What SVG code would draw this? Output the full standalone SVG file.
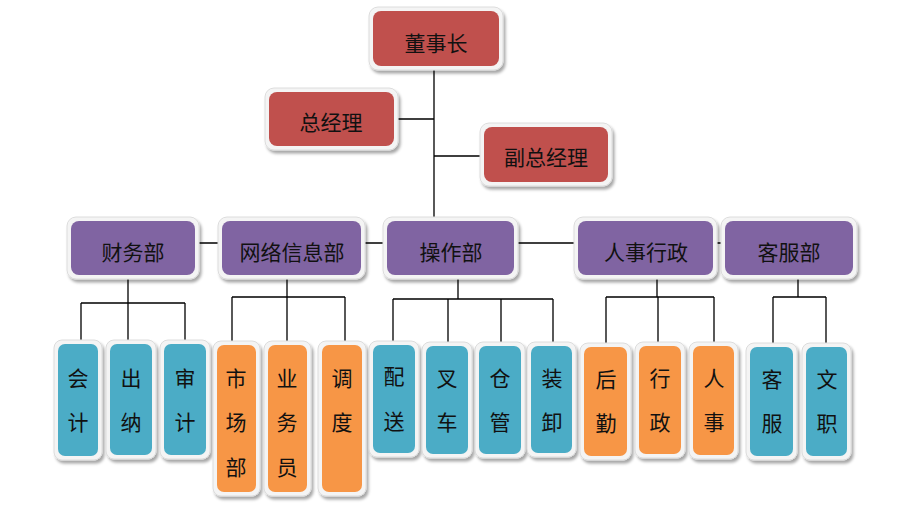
<svg xmlns="http://www.w3.org/2000/svg" width="920" height="510" viewBox="0 0 920 510">
<defs>
<filter id="sh" x="-20%" y="-20%" width="150%" height="150%">
<feDropShadow dx="2" dy="3" stdDeviation="1.5" flood-color="#000" flood-opacity="0.35"/>
</filter>
</defs>
<style>
.o{fill:#f4f4f4;stroke:#dcdcdc;stroke-width:1;filter:url(#sh)}
.red{fill:#C0504D}
.pur{fill:#8064A2}
.teal{fill:#4BACC6}
.org{fill:#F79646}
text{font-family:"Noto Sans CJK SC","Noto Sans",sans-serif;fill:#111;text-anchor:middle;dominant-baseline:central}
.t1{font-size:21px}
.t2{font-size:21px}
.t3{font-size:21px}
.ln{stroke:#000;stroke-width:1.3;fill:none}
</style>
<rect width="920" height="510" fill="#fff"/>
<g id="connectors" class="ln">
<path d="M434 70V217M398 119H434M434 156H480M199 243H721"/>
<path d="M128 279V303M81 303H185M81 303V342M128 303V342M185 303V342"/>
<path d="M287 279V297M232 297H345M232 297V342M287 297V342M345 297V342"/>
<path d="M458 279V299M393 299H553M393 299V342M448 299V342M501 299V342M553 299V342"/>
<path d="M657 279V297M606 297H714M606 297V343M658 297V343M714 297V343"/>
<path d="M798 279V297M773 297H826M773 297V343M826 297V343"/>
</g>
<g id="n-dongshizhang"><rect class="o" x="369" y="7" width="134" height="63" rx="9"/><rect class="red" x="373" y="11" width="126" height="55" rx="8"/><text class="t1" x="436" y="42">董事长</text></g>
<g id="n-zongjingli"><rect class="o" x="265" y="88" width="133" height="62" rx="9"/><rect class="red" x="269" y="92" width="125" height="54" rx="8"/><text class="t1" x="331" y="121">总经理</text></g>
<g id="n-fuzongjingli"><rect class="o" x="480" y="123" width="132" height="63" rx="9"/><rect class="red" x="484" y="127" width="124" height="55" rx="8"/><text class="t1" x="546" y="156">副总经理</text></g>

<g id="n-caiwubu"><rect class="o" x="67" y="217" width="132" height="62" rx="9"/><rect class="pur" x="71" y="221" width="124" height="54" rx="8"/><text class="t2" x="133" y="251">财务部</text></g>
<g id="n-wangluo"><rect class="o" x="218" y="217" width="147" height="62" rx="9"/><rect class="pur" x="222" y="221" width="139" height="54" rx="8"/><text class="t2" x="292" y="251">网络信息部</text></g>
<g id="n-caozuobu"><rect class="o" x="383" y="217" width="135" height="62" rx="9"/><rect class="pur" x="387" y="221" width="127" height="54" rx="8"/><text class="t2" x="451" y="251">操作部</text></g>
<g id="n-renshixingzheng"><rect class="o" x="574" y="217" width="143" height="62" rx="9"/><rect class="pur" x="578" y="221" width="135" height="54" rx="8"/><text class="t2" x="646" y="251">人事行政</text></g>
<g id="n-kefubu"><rect class="o" x="721" y="217" width="136" height="62" rx="9"/><rect class="pur" x="725" y="221" width="128" height="54" rx="8"/><text class="t2" x="789" y="251">客服部</text></g>

<g id="n-kuaiji"><rect class="o" x="54" y="340" width="48" height="120" rx="8"/><rect class="teal" x="58" y="344" width="40" height="112" rx="7"/><text class="t3" x="78" y="377">会</text><text class="t3" x="78" y="421">计</text></g>
<g id="n-chuna"><rect class="o" x="106" y="340" width="50" height="119" rx="8"/><rect class="teal" x="110" y="344" width="42" height="111" rx="7"/><text class="t3" x="131" y="377">出</text><text class="t3" x="131" y="421">纳</text></g>
<g id="n-shenji"><rect class="o" x="160" y="340" width="50" height="119" rx="8"/><rect class="teal" x="164" y="344" width="42" height="111" rx="7"/><text class="t3" x="185" y="377">审</text><text class="t3" x="185" y="421">计</text></g>
<g id="n-shichangbu"><rect class="o" x="213" y="341" width="47" height="155" rx="8"/><rect class="org" x="217" y="345" width="39" height="147" rx="7"/><text class="t3" x="236" y="377">市</text><text class="t3" x="236" y="421">场</text><text class="t3" x="236" y="466">部</text></g>
<g id="n-yewuyuan"><rect class="o" x="264" y="341" width="47" height="155" rx="8"/><rect class="org" x="268" y="345" width="39" height="147" rx="7"/><text class="t3" x="287" y="377">业</text><text class="t3" x="287" y="421">务</text><text class="t3" x="287" y="466">员</text></g>
<g id="n-diaodu"><rect class="o" x="318" y="341" width="48" height="155" rx="8"/><rect class="org" x="322" y="345" width="40" height="147" rx="7"/><text class="t3" x="342" y="377">调</text><text class="t3" x="342" y="421">度</text></g>

<g id="n-peisong"><rect class="o" x="369" y="341" width="50" height="116" rx="8"/><rect class="teal" x="373" y="345" width="42" height="108" rx="7"/><text class="t3" x="394" y="375">配</text><text class="t3" x="394" y="420">送</text></g>
<g id="n-chache"><rect class="o" x="422" y="342" width="50" height="116" rx="8"/><rect class="teal" x="426" y="346" width="42" height="108" rx="7"/><text class="t3" x="447" y="377">叉</text><text class="t3" x="447" y="421">车</text></g>
<g id="n-cangguan"><rect class="o" x="475" y="342" width="50" height="116" rx="8"/><rect class="teal" x="479" y="346" width="42" height="108" rx="7"/><text class="t3" x="500" y="377">仓</text><text class="t3" x="500" y="421">管</text></g>
<g id="n-zhuangxie"><rect class="o" x="527" y="342" width="49" height="115" rx="8"/><rect class="teal" x="531" y="346" width="41" height="107" rx="7"/><text class="t3" x="552" y="377">装</text><text class="t3" x="552" y="421">卸</text></g>
<g id="n-houqin"><rect class="o" x="580" y="343" width="51" height="117" rx="8"/><rect class="org" x="584" y="347" width="43" height="109" rx="7"/><text class="t3" x="606" y="378">后</text><text class="t3" x="606" y="422">勤</text></g>
<g id="n-xingzheng"><rect class="o" x="635" y="342" width="50" height="116" rx="8"/><rect class="org" x="639" y="346" width="42" height="108" rx="7"/><text class="t3" x="660" y="377">行</text><text class="t3" x="660" y="421">政</text></g>
<g id="n-renshi"><rect class="o" x="689" y="342" width="49" height="117" rx="8"/><rect class="org" x="693" y="346" width="41" height="109" rx="7"/><text class="t3" x="714" y="377">人</text><text class="t3" x="714" y="421">事</text></g>
<g id="n-kefu"><rect class="o" x="746" y="343" width="51" height="117" rx="8"/><rect class="teal" x="750" y="347" width="43" height="109" rx="7"/><text class="t3" x="772" y="378">客</text><text class="t3" x="772" y="422">服</text></g>
<g id="n-wenzhi"><rect class="o" x="802" y="343" width="49" height="117" rx="8"/><rect class="teal" x="806" y="347" width="41" height="109" rx="7"/><text class="t3" x="827" y="378">文</text><text class="t3" x="827" y="422">职</text></g>
</svg>
